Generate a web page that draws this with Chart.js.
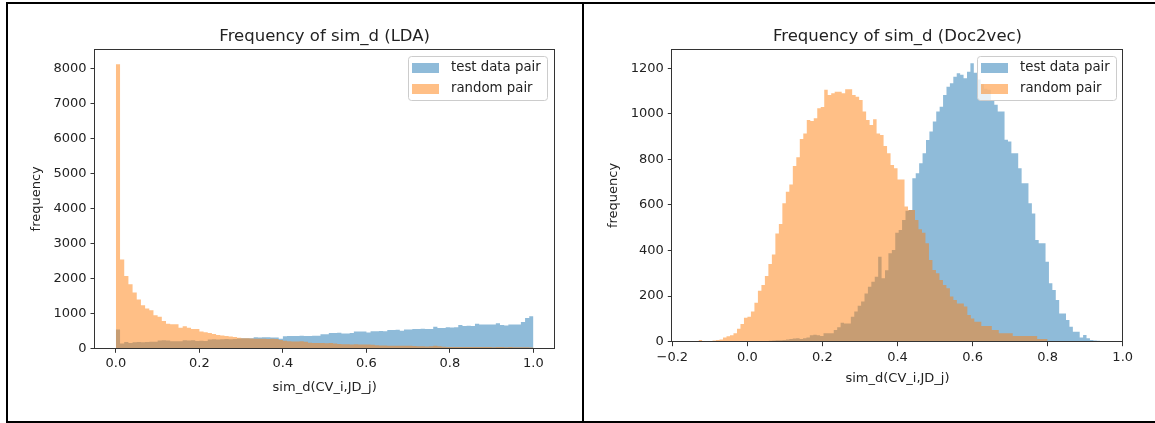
<!DOCTYPE html>
<html>
<head>
<meta charset="utf-8">
<title>Frequency of sim_d</title>
<script src="https://cdn.jsdelivr.net/npm/chart.js@4.4.1/dist/chart.umd.min.js"></script>
<style>
    html, body { margin: 0; padding: 0; background: #fff; }
    body { width: 1155px; height: 423px; overflow: hidden; position: relative; }
    #frame { position: absolute; left: 6px; top: 2px; border: 2px solid #000; display: flex; }
    .cell { position: relative; height: 417px; }
    #cellLda { width: 574px; }
    #cellDoc { width: 572px; border-left: 2px solid #000; }
    canvas { display: block; }
</style>
</head>
<body>
<div id="frame">
    <div class="cell" id="cellLda"><canvas id="ldaChart" width="574" height="417"></canvas></div>
    <div class="cell" id="cellDoc"><canvas id="docChart" width="572" height="417"></canvas></div>
</div>
<script>
// series names
const seriesLabels = ['test data pair', 'random pair'];
const chartTitles = ['Frequency of sim_d (LDA)', 'Frequency of sim_d (Doc2vec)'];
const xAxisTitle = 'sim_d(CV_i,JD_j)';
const yAxisTitle = 'frequency';

// tick values
const ldaXTicks = [0, 0.2, 0.4, 0.6, 0.8, 1.0];
const ldaYTicks = [0, 1000, 2000, 3000, 4000, 5000, 6000, 7000, 8000];
const docXTicks = [-0.2, 0, 0.2, 0.4, 0.6, 0.8, 1.0];
const docYTicks = [0, 200, 400, 600, 800, 1000, 1200];

// LDA: 100 bins on [0, 1]
const ldaBinStart = 0;
const ldaBinWidth = 0.01;
const ldaTestCounts = [
    540, 135, 180, 150, 175, 180, 175, 180, 190, 185,
    225, 230, 220, 200, 205, 200, 230, 225, 230, 210,
    215, 210, 255, 260, 255, 260, 265, 260, 265, 280,
    285, 290, 285, 315, 312, 318, 315, 312, 310, 270,
    345, 355, 352, 355, 358, 355, 352, 356, 360, 400,
    402, 440, 438, 442, 420, 422, 440, 480, 478, 482,
    450, 490, 488, 492, 490, 525, 522, 528, 505, 535,
    538, 555, 552, 558, 555, 553, 620, 580, 582, 600,
    598, 602, 670, 640, 642, 638, 705, 680, 682, 678,
    680, 715, 670, 650, 680, 682, 680, 755, 870, 915
];
const ldaRandomCounts = [
    8130, 2540, 2070, 1830, 1595, 1400, 1230, 1140, 1090, 945,
    900, 780, 705, 690, 690, 590, 630, 590, 555, 555,
    480, 460, 440, 410, 380, 365, 350, 340, 320, 300,
    290, 285, 280, 275, 270, 272, 268, 270, 265, 240,
    215, 200, 195, 195, 205, 190, 160, 155, 150, 150,
    145, 150, 140, 120, 118, 115, 112, 115, 110, 108,
    112, 105, 85, 80, 78, 76, 75, 72, 70, 75,
    72, 68, 57, 60, 55, 57, 75, 60, 42, 40,
    38, 40, 38, 36, 38, 35, 36, 34, 38, 35,
    33, 36, 34, 32, 35, 33, 30, 28, 30, 25
];

// Doc2vec: 100 bins each, own range per series
const docTestBinStart = 0.03;
const docTestBinWidth = 0.0091;
const docTestCounts = [
    2, 3, 3, 4, 5, 6, 6, 8, 10, 12,
    14, 15, 12, 15, 18, 28, 30, 28, 25, 37,
    37, 37, 51, 63, 83, 80, 80, 110, 132, 158,
    176, 212, 241, 263, 285, 373, 278, 314, 388, 402,
    478, 490, 534, 575, 578, 717, 739, 783, 827, 885,
    922, 966, 1010, 1031, 1083, 1119, 1134, 1163, 1178, 1171,
    1156, 1185, 1222, 1180, 1150, 1130, 1110, 1105, 1060, 1040,
    1010, 1010, 886, 878, 827, 827, 761, 695, 695, 607,
    563, 446, 432, 432, 351, 256, 227, 183, 124, 124,
    95, 66, 44, 44, 18, 29, 15, 7, 5, 4
];
const docRandomBinStart = -0.13;
const docRandomBinWidth = 0.0093;
const docRandomCounts = [
    7, 3, 2, 3, 5, 7, 10, 18, 24, 28,
    37, 57, 78, 105, 110, 132, 171, 224, 249, 288,
    341, 383, 475, 516, 607, 658, 690, 771, 809, 889,
    914, 973, 968, 980, 1024, 1030, 1105, 1083, 1090, 1097,
    1097, 1090, 1108, 1108, 1083, 1075, 1061, 1010, 973, 951,
    976, 914, 907, 859, 827, 775, 761, 712, 712, 593,
    578, 578, 534, 493, 478, 432, 358, 315, 300, 271,
    249, 234, 198, 183, 168, 168, 154, 117, 102, 88,
    88, 69, 69, 69, 51, 51, 37, 37, 37, 37,
    25, 25, 25, 25, 25, 25, 25, 12, 12, 12
];

const testColor = 'rgba(31, 119, 180, 0.5)';
const randomColor = 'rgba(255, 127, 14, 0.5)';
const textColor = '#222';
const fontFamily = '"DejaVu Sans", sans-serif';

// left edges of the bins plus the closing right edge, for a stepped fill
function histPoints(start, width, counts) {
    const pts = counts.map((c, i) => ({ x: start + i * width, y: c }));
    pts.push({ x: start + counts.length * width, y: counts[counts.length - 1] });
    return pts;
}

function histDataset(label, color, order, points) {
    return {
        label: label,
        data: points,
        order: order,
        stepped: true,
        fill: 'origin',
        backgroundColor: color,
        borderColor: 'transparent',
        borderWidth: 0,
        pointRadius: 0,
        pointHoverRadius: 0
    };
}

// matplotlib style full box round the axes
const axesFrame = {
    id: 'axesFrame',
    afterDatasetsDraw(chart) {
        const { ctx, chartArea: a } = chart;
        ctx.save();
        ctx.strokeStyle = '#333';
        ctx.lineWidth = 1;
        ctx.strokeRect(Math.round(a.left) - 0.5, Math.round(a.top) + 0.5,
            Math.round(a.right - a.left) + 1, Math.round(a.bottom - a.top));
        ctx.restore();
    }
};

// legend inside the axes, upper right
const boxLegend = {
    id: 'boxLegend',
    afterDraw(chart) {
        const { ctx, chartArea: a } = chart;
        const sets = chart.data.datasets;
        ctx.save();
        ctx.font = '13.3px ' + fontFamily;
        const textW = Math.max(...sets.map(d => ctx.measureText(d.label).width));
        const w = Math.round(4 + 27 + 12 + textW + 6);
        const h = 44;
        const x = Math.round(a.right - 7 - w) + 0.5;
        const y = Math.round(a.top + 7) + 0.5;
        ctx.beginPath();
        ctx.roundRect(x, y, w, h, 3);
        ctx.fillStyle = 'rgba(255, 255, 255, 0.8)';
        ctx.fill();
        ctx.strokeStyle = '#cccccc';
        ctx.lineWidth = 1;
        ctx.stroke();
        ctx.textBaseline = 'middle';
        sets.forEach((d, i) => {
            const cy = y + 11 + i * 21;
            ctx.fillStyle = d.backgroundColor;
            ctx.fillRect(x + 3.5, Math.round(cy - 5), 27, 10);
            ctx.fillStyle = textColor;
            ctx.fillText(d.label, x + 42.5, cy);
        });
        ctx.restore();
    }
};

function fixedTicks(values) {
    return s => { s.ticks = values.map(v => ({ value: v })); };
}

function makeChart(canvasId, title, datasets, geo) {
    const ctx = document.getElementById(canvasId).getContext('2d');
    return new Chart(ctx, {
        type: 'line',
        data: { datasets: datasets },
        options: {
            responsive: false,
            animation: false,
            events: [],
            layout: { padding: { left: geo.padLeft, right: geo.padRight, top: 0, bottom: 0 } },
            plugins: {
                legend: { display: false },
                tooltip: { enabled: false },
                title: {
                    display: true,
                    text: title,
                    fullSize: false,
                    color: textColor,
                    font: { family: fontFamily, size: 16.5, weight: 'normal' },
                    padding: { top: 23, bottom: 2.5 }
                }
            },
            scales: {
                x: {
                    type: 'linear',
                    min: geo.xMin,
                    max: geo.xMax,
                    afterBuildTicks: fixedTicks(geo.xTicks),
                    afterFit: s => { s.height = geo.xHeight; },
                    border: { display: false },
                    grid: { drawOnChartArea: false, drawTicks: true, tickLength: 4.5, tickColor: '#333' },
                    ticks: {
                        autoSkip: false,
                        maxRotation: 0,
                        padding: 3.5,
                        color: textColor,
                        font: { family: fontFamily, size: 13 },
                        callback: v => v.toFixed(1).replace('-', '\u2212')
                    },
                    title: {
                        display: true,
                        text: xAxisTitle,
                        color: textColor,
                        font: { family: fontFamily, size: 13 },
                        padding: { top: 0, bottom: geo.xTitleBottom }
                    }
                },
                y: {
                    min: 0,
                    max: geo.yMax,
                    afterBuildTicks: fixedTicks(geo.yTicks),
                    afterFit: s => { s.width = geo.yWidth; },
                    border: { display: false },
                    grid: { drawOnChartArea: false, drawTicks: true, tickLength: 4.5, tickColor: '#333' },
                    ticks: {
                        autoSkip: false,
                        padding: 4,
                        color: textColor,
                        font: { family: fontFamily, size: 13 },
                        callback: v => String(v)
                    },
                    title: {
                        display: true,
                        text: yAxisTitle,
                        color: textColor,
                        font: { family: fontFamily, size: 13 },
                        padding: { top: 4, bottom: 0 }
                    }
                }
            }
        },
        plugins: [axesFrame, boxLegend]
    });
}

makeChart('ldaChart', chartTitles[0], [
    histDataset(seriesLabels[0], testColor, 2, histPoints(ldaBinStart, ldaBinWidth, ldaTestCounts)),
    histDataset(seriesLabels[1], randomColor, 1, histPoints(ldaBinStart, ldaBinWidth, ldaRandomCounts))
], { padLeft: 17, padRight: 27.7, yWidth: 70, xHeight: 72.7, xTitleBottom: 25.2,
     xMin: -0.05, xMax: 1.05, yMax: 8557, xTicks: ldaXTicks, yTicks: ldaYTicks });

makeChart('docChart', chartTitles[1], [
    histDataset(seriesLabels[0], testColor, 2, histPoints(docTestBinStart, docTestBinWidth, docTestCounts)),
    histDataset(seriesLabels[1], randomColor, 1, histPoints(docRandomBinStart, docRandomBinWidth, docRandomCounts))
], { padLeft: 18.2, padRight: 33.3, yWidth: 70.1, xHeight: 79.3, xTitleBottom: 34.2,
     xMin: -0.2, xMax: 1.0, yMax: 1283, xTicks: docXTicks, yTicks: docYTicks });
</script>
</body>
</html>
